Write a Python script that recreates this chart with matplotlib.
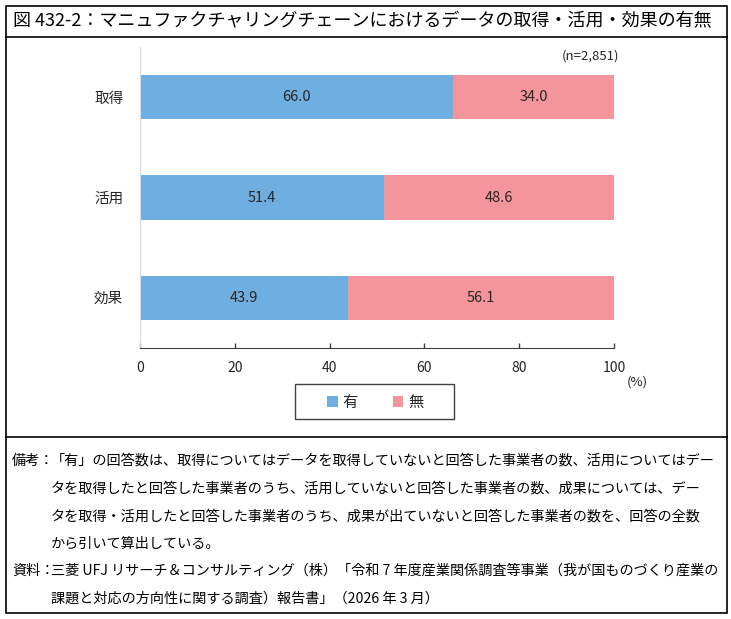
import matplotlib
matplotlib.use('Agg')
import matplotlib.pyplot as plt
from matplotlib.patches import Rectangle
from matplotlib.lines import Line2D

plt.rcParams['font.family'] = ['Noto Sans CJK JP', 'DejaVu Sans']

# data
categories = ['取得', '活用', '効果']
yes_vals = [66.0, 51.4, 43.9]
no_vals = [34.0, 48.6, 56.1]
series_names = ['有', '無']
x_ticks = [0, 20, 40, 60, 80, 100]

title = '図 432-2：マニュファクチャリングチェーンにおけるデータの取得・活用・効果の有無'
note_label = '備考：'
note_lines = [
    '「有」の回答数は、取得についてはデータを取得していないと回答した事業者の数、活用についてはデー',
    'タを取得したと回答した事業者のうち、活用していないと回答した事業者の数、成果については、デー',
    'タを取得・活用したと回答した事業者のうち、成果が出ていないと回答した事業者の数を、回答の全数',
    'から引いて算出している。',
]
source_label = '資料：'
source_lines = [
    '三菱 UFJ リサーチ＆コンサルティング（株）「令和 7 年度産業関係調査等事業（我が国ものづくり産業の',
    '課題と対応の方向性に関する調査）報告書」（2026 年 3 月）',
]

blue = '#6FAEE0'
pink = '#F4959B'
dark = '#262626'

W, H = 731, 619
fig = plt.figure(figsize=(W / 100, H / 100), dpi=100)


def fx(x):
    return x / W


def fy(y):
    return 1 - y / H


# frame: outer box, title row, notes row
fig.add_artist(Rectangle((fx(5.5), fy(613)), fx(727) - fx(5.5), fy(5.5) - fy(613),
                         transform=fig.transFigure, fill=False, ec='black', lw=1.2))
for yy in (37, 437):
    fig.add_artist(Line2D([fx(5.5), fx(727)], [fy(yy), fy(yy)],
                          transform=fig.transFigure, color='black', lw=1.2))

fig.text(fx(13), fy(21), title, fontsize=13.0, va='center', ha='left', color='black')

# chart
ax = fig.add_axes([fx(140), fy(348), fx(614) - fx(140), fy(47) - fy(348)])
ypos = list(range(len(categories)))
b1 = ax.barh(ypos, yes_vals, height=0.44, color=blue, label=series_names[0])
b2 = ax.barh(ypos, no_vals, left=yes_vals, height=0.44, color=pink, label=series_names[1])
for rects, vals in ((b1, yes_vals), (b2, no_vals)):
    ax.bar_label(rects, labels=[f'{v:.1f}' for v in vals], label_type='center',
                 fontsize=10.5, color=dark)

ax.set_xlim(0, 100)
ax.set_ylim(2.5, -0.5)
ax.set_xticks(x_ticks)
ax.set_yticks(ypos)
ax.set_yticklabels(categories)
ax.tick_params(axis='y', length=0, pad=12, labelsize=10.5, labelcolor=dark)
ax.tick_params(axis='x', direction='in', length=3.5, width=1, color='#404040',
               pad=9, labelsize=10, labelcolor=dark)
for side in ('top', 'right'):
    ax.spines[side].set_visible(False)
ax.spines['left'].set_color('#D9D9D9')
ax.spines['bottom'].set_color('#404040')

fig.text(fx(619), fy(56), '(n=2,851)', fontsize=9.5, ha='right', va='center', color=dark)
fig.text(fx(637), fy(382), '(%)', fontsize=9.5, ha='center', va='center', color=dark)

# legend with its own box
fig.add_artist(Rectangle((fx(295), fy(419)), fx(454) - fx(295), fy(384) - fy(419),
                         transform=fig.transFigure, fill=False, ec='#404040', lw=1))
fig.legend(handles=[b1, b2], loc='center', bbox_to_anchor=(fx(375), fy(402)), ncol=2,
           frameon=False, fontsize=11, handlelength=0.7, handleheight=0.7,
           handletextpad=0.3, columnspacing=2.3, labelcolor=dark)

# notes
line_y = [461, 488.5, 516, 543.5]
fig.text(fx(12), fy(line_y[0]), note_label, fontsize=10.2, va='center', ha='left')
for y, txt in zip(line_y, note_lines):
    fig.text(fx(51), fy(y), txt, fontsize=10.2, va='center', ha='left')
src_y = [571, 598.5]
fig.text(fx(12), fy(src_y[0]), source_label, fontsize=10.2, va='center', ha='left')
for y, txt in zip(src_y, source_lines):
    fig.text(fx(51), fy(y), txt, fontsize=10.2, va='center', ha='left')

fig.savefig('out.png', dpi=100)
